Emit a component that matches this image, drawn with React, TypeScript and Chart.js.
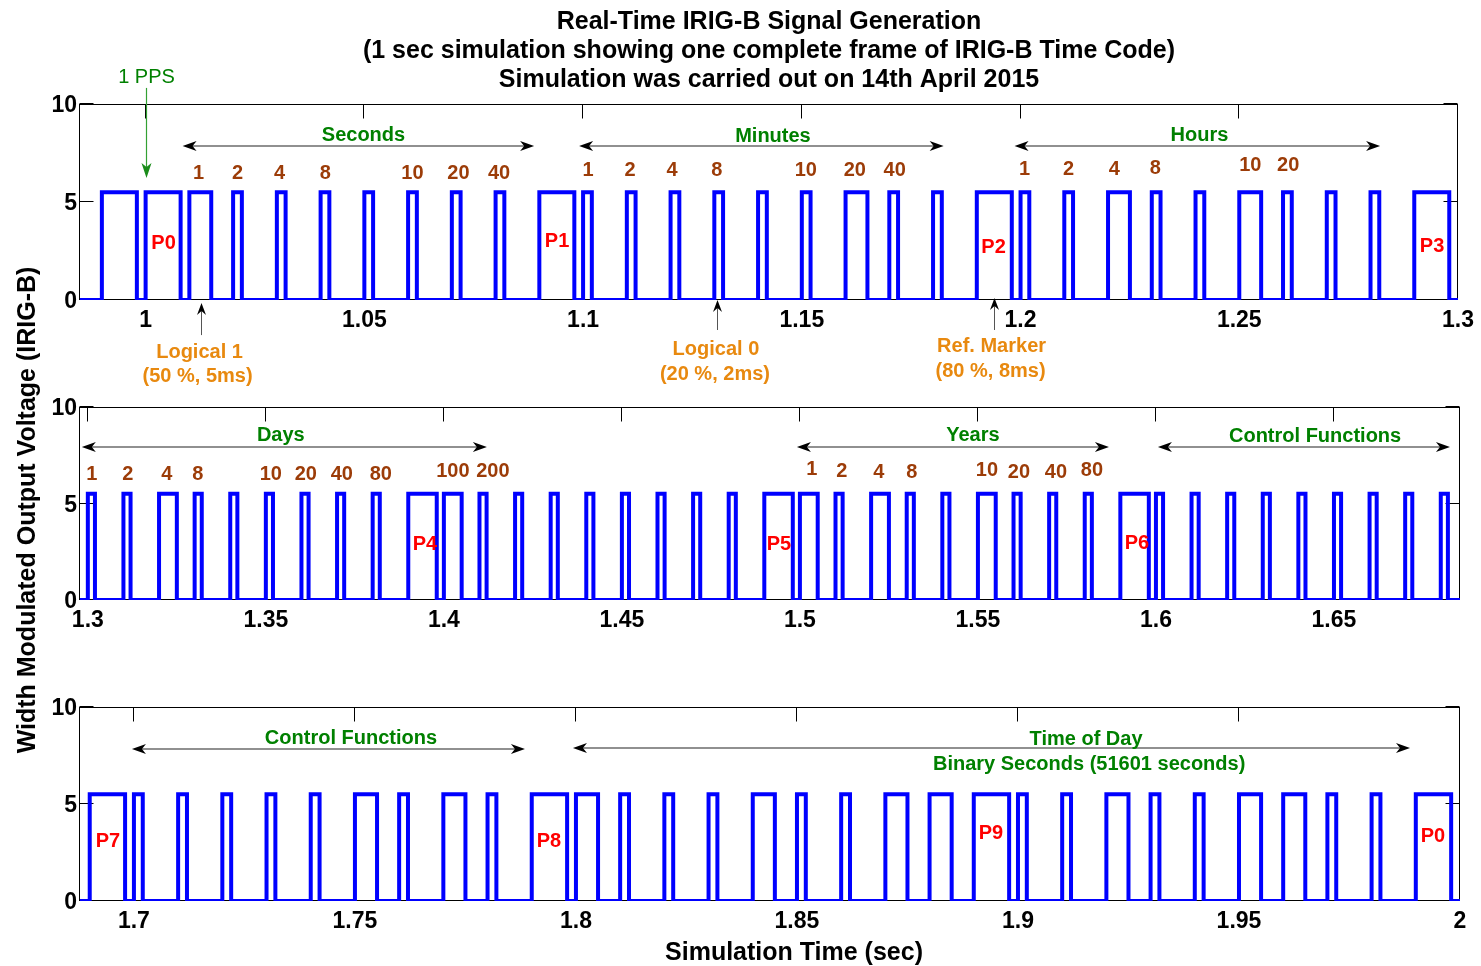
import React, { useEffect, useRef } from "react";
import { Chart, registerables } from "chart.js";

Chart.register(...registerables);

// ---------------- DATA ----------------
// IRIG-B symbols, one per 10 ms slot, first slot starting at 0.99 s.
// "M" = position / reference marker (8 ms high), "1" = logical one (5 ms), "0" = logical zero (2 ms)
const SLOT_START = 0.99;
const SLOT_LENGTH = 0.01;
const FRAME_SYMBOLS: string[] = [
  "M", // P0 of previous frame
  "M", // Pr (1 PPS)
  "1", "0", "0", "0", "0", "0", "0", "0", // seconds = 01
  "M", // P1
  "0", "0", "0", "0", "0", "0", "1", "0", "0", // minutes = 20
  "M", // P2
  "0", "0", "1", "0", "0", "1", "0", "0", "0", // hours = 14
  "M", // P3
  "0", "0", "1", "0", "0", "0", "0", "0", "0", // days (units, tens)
  "M", // P4
  "1", "0", "0", "0", "0", "0", "0", "0", "0", // days (hundreds) = 104
  "M", // P5
  "1", "0", "1", "0", "0", "1", "0", "0", "0", // years = 15
  "M", // P6
  "0", "0", "0", "0", "0", "0", "0", "0", "0", // control functions
  "M", // P7
  "0", "0", "0", "0", "0", "1", "0", "1", "0", // control functions
  "M", // P8
  "1", "0", "0", "0", "1", "0", "0", "1", "1", // straight binary seconds (2^0..2^8)
  "M", // P9
  "0", "0", "1", "0", "0", "1", "1", "0", "0", // straight binary seconds (2^9..2^16)
  "M", // P0
];
const PULSE_MS: Record<string, number> = { M: 8, "1": 5, "0": 2 };
const HIGH_LEVEL = 5.5;

const PANEL_X_MIN = [0.985, 1.2978, 1.6878];
const PANEL_X_MAX = [1.3, 1.6854, 2.0];
const PANEL1_X_TICKS = [1, 1.05, 1.1, 1.15, 1.2, 1.25, 1.3];
const PANEL2_X_TICKS = [1.3, 1.35, 1.4, 1.45, 1.5, 1.55, 1.6, 1.65];
const PANEL3_X_TICKS = [1.7, 1.75, 1.8, 1.85, 1.9, 1.95, 2];
const PANEL_X_TICKS = [PANEL1_X_TICKS, PANEL2_X_TICKS, PANEL3_X_TICKS];
const Y_TICKS = [0, 5, 10];

const TITLE_LINES = [
  "Real-Time IRIG-B Signal Generation",
  "(1 sec simulation showing one complete frame of IRIG-B Time Code)",
  "Simulation was carried out on 14th April 2015",
];
const X_TITLE = "Simulation Time (sec)";
const Y_TITLE = "Width Modulated Output Voltage (IRIG-B)";

// annotation texts: [text, time, voltage]
type Txt = [string, number, number];
type DArrow = [number, number, number]; // t1, t2, v
type VArrow = [number, number, number]; // t, vFrom, vTo (head at vTo)

const GROUP_LABELS: Txt[][] = [
  [["Seconds", 1.0498, 8.47], ["Minutes", 1.1434, 8.42], ["Hours", 1.2409, 8.47]],
  [["Days", 1.3542, 8.6], ["Years", 1.5486, 8.6], ["Control Functions", 1.6447, 8.55]],
  [["Control Functions", 1.7491, 8.45], ["Time of Day", 1.9154, 8.4], ["Binary Seconds (51601 seconds)", 1.9161, 7.11]],
];
const GROUP_ARROWS: DArrow[][] = [
  [[1.00845, 1.08881, 7.86], [1.09909, 1.18242, 7.86], [1.19863, 1.28219, 7.86]],
  [[1.29831, 1.41208, 7.93], [1.49916, 1.5868, 7.93], [1.60056, 1.68258, 7.93]],
  [[1.69955, 1.78846, 7.84], [1.79932, 1.98869, 7.89]],
];
const WEIGHT_LABELS: Txt[][] = [
  [
    ["1", 1.0121, 6.55], ["2", 1.021, 6.55], ["4", 1.0306, 6.55], ["8", 1.0411, 6.55],
    ["10", 1.061, 6.55], ["20", 1.0715, 6.55], ["40", 1.0808, 6.55],
    ["1", 1.10114, 6.68], ["2", 1.11073, 6.68], ["4", 1.12032, 6.68], ["8", 1.13059, 6.68],
    ["10", 1.15091, 6.68], ["20", 1.1621, 6.68], ["40", 1.17123, 6.68],
    ["1", 1.20091, 6.73], ["2", 1.21096, 6.73], ["4", 1.22146, 6.73], ["8", 1.23082, 6.78],
    ["10", 1.25251, 6.94], ["20", 1.26119, 6.94],
  ],
  [
    ["1", 1.30112, 6.58], ["2", 1.31124, 6.58], ["4", 1.32219, 6.58], ["8", 1.3309, 6.58],
    ["10", 1.3514, 6.58], ["20", 1.36124, 6.58], ["40", 1.37135, 6.58], ["80", 1.3823, 6.58],
    ["100", 1.40253, 6.74], ["200", 1.41376, 6.74],
    ["1", 1.50337, 6.84], ["2", 1.5118, 6.74], ["4", 1.52219, 6.68], ["8", 1.53146, 6.68],
    ["10", 1.55253, 6.79], ["20", 1.56152, 6.68], ["40", 1.57191, 6.68], ["80", 1.58202, 6.79],
  ],
  [],
];
const MARKER_LABELS: Txt[][] = [
  [["P0", 1.00411, 2.96], ["P1", 1.09406, 3.06], ["P2", 1.19384, 2.76], ["P3", 1.29406, 2.81]],
  [["P4", 1.39466, 2.95], ["P5", 1.4941, 2.95], ["P6", 1.59466, 3.0]],
  [["P7", 1.69412, 3.14], ["P8", 1.79389, 3.14], ["P9", 1.89389, 3.56], ["P0", 1.99389, 3.4]],
];
const NOTE_LABELS: Txt[][] = [
  [
    ["Logical 1", 1.01233, -2.6], ["(50 %, 5ms)", 1.01187, -3.83],
    ["Logical 0", 1.13037, -2.45], ["(20 %, 2ms)", 1.13014, -3.72],
    ["Ref. Marker", 1.19338, -2.3], ["(80 %, 8ms)", 1.19315, -3.57],
  ],
  [],
  [],
];
const NOTE_ARROWS: VArrow[][] = [
  [[1.01256, -1.79, -0.15], [1.1306, -1.53, 0.0], [1.19384, -1.53, 0.1]],
  [],
  [],
];
const PPS_LABEL: Txt = ["1 PPS", 1.0002, 11.43];
const PPS_ARROW: VArrow = [1.0, 10.82, 6.22];

// ---------------- STYLE ----------------
const FONT = '"Liberation Sans", Arial, Helvetica, sans-serif';
const GREEN = "#008000";
const BROWN = "#9c3c08";
const RED = "#ff0000";
const ORANGE = "#e8890f";
const W = 1481;
const H = 966;
const PLOT_LEFT = 80;
const PLOT_RIGHT = 1460;
const PANEL_TOP = [104, 407, 707];
const PANEL_BOTTOM = [300, 600, 901];
const XAXIS_H = 40;
const TICK_LEN = 14;
const TEXT_DY = 1.5;

function buildWave(xmin: number, xmax: number) {
  const pts: { x: number; y: number }[] = [{ x: xmin, y: 0 }];
  FRAME_SYMBOLS.forEach((s, i) => {
    const t0 = +(SLOT_START + i * SLOT_LENGTH).toFixed(5);
    if (t0 < xmin || t0 >= xmax) return;
    const t1 = Math.min(xmax, +(t0 + PULSE_MS[s] / 1000).toFixed(5));
    pts.push({ x: t0, y: 0 }, { x: t0, y: HIGH_LEVEL }, { x: t1, y: HIGH_LEVEL }, { x: t1, y: 0 });
  });
  pts.push({ x: xmax, y: 0 });
  return pts;
}

function arrowHead(ctx: CanvasRenderingContext2D, tx: number, ty: number, dx: number, dy: number, L = 14, Wd = 5, back = 4) {
  const px = -dy, py = dx;
  ctx.beginPath();
  ctx.moveTo(tx, ty);
  ctx.lineTo(tx - dx * L + px * Wd, ty - dy * L + py * Wd);
  ctx.lineTo(tx - dx * (L - back), ty - dy * (L - back));
  ctx.lineTo(tx - dx * L - px * Wd, ty - dy * L - py * Wd);
  ctx.closePath();
  ctx.fill();
}

function drawText(ctx: CanvasRenderingContext2D, s: string, x: number, y: number, color: string, size = 20, weight = "bold") {
  ctx.save();
  ctx.font = `${weight} ${size}px ${FONT}`;
  ctx.fillStyle = color;
  ctx.textAlign = "center";
  ctx.textBaseline = "middle";
  ctx.fillText(s, x, y + TEXT_DY);
  ctx.restore();
}

const framePlugin = {
  id: "matlabFrame",
  beforeDatasetsDraw(chart: any) {
    const { ctx, chartArea: a, scales } = chart;
    const xs = scales.x, ys = scales.y;
    ctx.save();
    ctx.strokeStyle = "#000";
    ctx.lineWidth = 1;
    const l = Math.round(a.left) - 0.5, r = Math.round(a.right) - 0.5;
    const t = Math.round(a.top) + 0.5, b = Math.round(a.bottom) - 0.5;
    ctx.strokeRect(l, t, r - l, b - t);
    ctx.beginPath();
    xs.ticks.forEach((tk: any) => {
      const px = Math.round(xs.getPixelForValue(tk.value)) - 0.5;
      ctx.moveTo(px, b); ctx.lineTo(px, b - TICK_LEN);
      ctx.moveTo(px, t); ctx.lineTo(px, t + TICK_LEN);
    });
    ys.ticks.forEach((tk: any) => {
      const py = Math.round(ys.getPixelForValue(tk.value)) - 0.5;
      ctx.moveTo(l, py); ctx.lineTo(l + TICK_LEN, py);
      ctx.moveTo(r, py); ctx.lineTo(r - TICK_LEN, py);
    });
    ctx.stroke();
    ctx.restore();
  },
};

function annotationPlugin(i: number) {
  return {
    id: "annot" + i,
    afterDatasetsDraw(chart: any) {
      const { ctx, scales } = chart;
      const X = (t: number) => scales.x.getPixelForValue(t);
      const Y = (v: number) => scales.y.getPixelForValue(v);
      ctx.save();
      // double arrows
      GROUP_ARROWS[i].forEach(([t1, t2, v]) => {
        const x1 = X(t1), x2 = X(t2), y = Math.round(Y(v));
        ctx.strokeStyle = "#222";
        ctx.lineWidth = 1.2;
        ctx.beginPath();
        ctx.moveTo(x1 + 4, y); ctx.lineTo(x2 - 4, y);
        ctx.stroke();
        ctx.fillStyle = "#000";
        arrowHead(ctx, x1, y, -1, 0);
        arrowHead(ctx, x2, y, 1, 0);
      });
      GROUP_LABELS[i].forEach(([s, t, v]) => drawText(ctx, s, X(t), Y(v), GREEN));
      WEIGHT_LABELS[i].forEach(([s, t, v]) => drawText(ctx, s, X(t), Y(v), BROWN));
      MARKER_LABELS[i].forEach(([s, t, v]) => drawText(ctx, s, X(t), Y(v), RED));
      NOTE_LABELS[i].forEach(([s, t, v]) => drawText(ctx, s, X(t), Y(v), ORANGE));
      NOTE_ARROWS[i].forEach(([t, v1, v2]) => {
        const x = Math.round(X(t)) + 0.5, y1 = Y(v1), y2 = Y(v2);
        ctx.strokeStyle = "#555";
        ctx.lineWidth = 1;
        ctx.beginPath();
        ctx.moveTo(x, y1); ctx.lineTo(x, y2 + 4);
        ctx.stroke();
        ctx.fillStyle = "#000";
        arrowHead(ctx, x, y2, 0, -1, 12, 4.5, 4);
      });
      if (i === 0) {
        const [s, t, v] = PPS_LABEL;
        drawText(ctx, s, X(t), Y(v), GREEN, 20, "normal");
        const [pt, pv1, pv2] = PPS_ARROW;
        const x = Math.round(X(pt)) + 0.5;
        ctx.strokeStyle = "#33a033";
        ctx.lineWidth = 1.2;
        ctx.beginPath();
        ctx.moveTo(x, Y(pv1)); ctx.lineTo(x, Y(pv2) - 4);
        ctx.stroke();
        ctx.fillStyle = "#1a8c1a";
        arrowHead(ctx, x, Y(pv2), 0, 1, 15, 5, 4);
      }
      if (i === 2) {
        drawText(ctx, X_TITLE, 794, 952, "#000", 25, "bold");
        ctx.save();
        ctx.translate(27, 510);
        ctx.rotate(-Math.PI / 2);
        drawText(ctx, Y_TITLE, 0, 0, "#000", 25, "bold");
        ctx.restore();
      }
      ctx.restore();
    },
  };
}

const fmt = (v: number) => String(+Number(v).toFixed(2));

function makeConfig(i: number): any {
  const tickFont = { family: FONT, size: 23, weight: "bold" as const };
  return {
    type: "line",
    data: {
      datasets: [
        {
          data: buildWave(PANEL_X_MIN[i], PANEL_X_MAX[i]),
          borderColor: "#0000ff",
          borderWidth: 4,
          pointRadius: 0,
          pointHoverRadius: 0,
          fill: false,
          tension: 0,
          borderJoinStyle: "miter",
        },
      ],
    },
    options: {
      responsive: false,
      animation: false,
      events: [],
      layout: {
        padding: {
          left: 0,
          right: W - PLOT_RIGHT,
          top: i === 0 ? 0 : PANEL_TOP[i],
          bottom: H - PANEL_BOTTOM[i] - XAXIS_H,
        },
      },
      plugins: {
        legend: { display: false },
        tooltip: { enabled: false },
        title:
          i === 0
            ? {
                display: true,
                text: TITLE_LINES,
                color: "#000",
                fullSize: false,
                font: { family: FONT, size: 25, weight: "bold", lineHeight: 1.16 },
                padding: { top: 8, bottom: PANEL_TOP[0] - 8 - 87 },
              }
            : { display: false },
      },
      scales: {
        x: {
          type: "linear",
          min: PANEL_X_MIN[i],
          max: PANEL_X_MAX[i],
          afterBuildTicks: (s: any) => {
            s.ticks = PANEL_X_TICKS[i].map((v) => ({ value: v }));
          },
          afterFit: (s: any) => {
            s.height = XAXIS_H;
          },
          grid: { display: false, drawTicks: false },
          border: { display: false },
          ticks: {
            autoSkip: false,
            maxRotation: 0,
            minRotation: 0,
            padding: 7,
            color: "#000",
            font: tickFont,
            callback: (v: number) => fmt(v),
          },
        },
        y: {
          type: "linear",
          min: 0,
          max: 10,
          afterBuildTicks: (s: any) => {
            s.ticks = Y_TICKS.map((v) => ({ value: v }));
          },
          afterFit: (s: any) => {
            s.width = PLOT_LEFT;
          },
          grid: { display: false, drawTicks: false },
          border: { display: false },
          ticks: { padding: 3, labelOffset: 2, color: "#000", font: tickFont, callback: (v: number) => fmt(v) },
        },
      },
    },
    plugins: [framePlugin, annotationPlugin(i)],
  };
}

export default function App() {
  const r0 = useRef<HTMLCanvasElement | null>(null);
  const r1 = useRef<HTMLCanvasElement | null>(null);
  const r2 = useRef<HTMLCanvasElement | null>(null);
  useEffect(() => {
    const refs = [r0, r1, r2];
    const charts = refs.map((r, i) => new Chart(r.current as HTMLCanvasElement, makeConfig(i)));
    return () => charts.forEach((c) => c.destroy());
  }, []);
  const cs: React.CSSProperties = { position: "absolute", left: 0, top: 0, width: W, height: H };
  return (
    <div style={{ position: "absolute", left: 0, top: 0, width: W, height: H, background: "#fff" }}>
      <canvas ref={r0} width={W} height={H} style={cs} />
      <canvas ref={r1} width={W} height={H} style={cs} />
      <canvas ref={r2} width={W} height={H} style={cs} />
    </div>
  );
}
